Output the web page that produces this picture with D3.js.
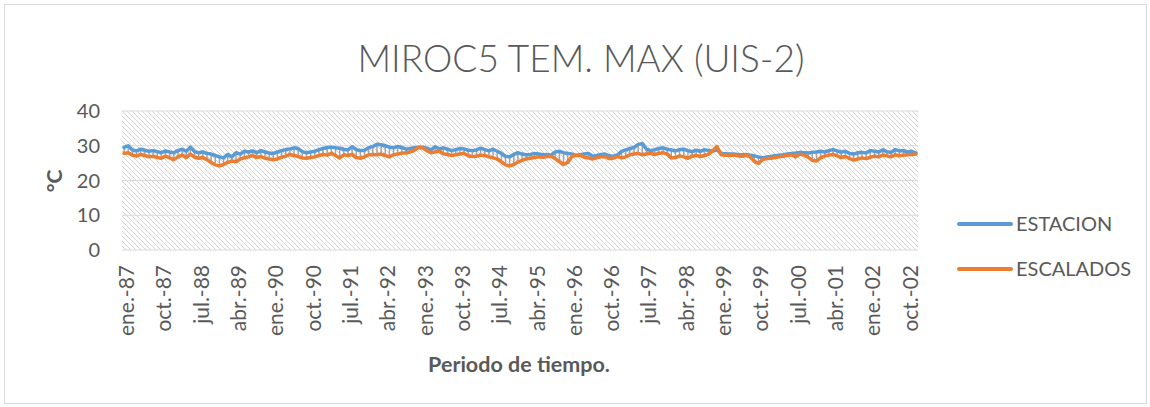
<!DOCTYPE html>
<html>
<head>
<meta charset="utf-8">
<script src="https://cdn.jsdelivr.net/npm/d3@7"></script>
<style>
  body { margin: 0; background: #fff; }
  text { font-family: Lato, "Open Sans", sans-serif; fill: #595959; }
</style>
</head>
<body>
<svg id="svg"></svg>
<script>
const svgWidth = 1150;
const svgHeight = 407;

const monthNames = ["ene.", "feb.", "mar.", "abr.", "may.", "jun.", "jul.", "ago.", "sep.", "oct.", "nov.", "dic."];
const years = d3.range(1987, 2003);

// monthly values, Jan 1987 .. Dec 2002
const estacion = [
  29.5, 30, 28.8, 28.5, 29, 28.7, 28.4, 28.6, 28.3, 28, 28.5, 28.2,
  28, 28.6, 29, 28.4, 29.6, 28.3, 28, 28.2, 27.8, 27.6, 27.2, 26.8,
  26.5, 27.5, 26.8, 28, 27.6, 28.4, 28.2, 28.5, 28, 28.6, 28.2, 27.9,
  27.8, 28.2, 28.6, 28.9, 29.1, 29.4, 29.2, 28.3, 28, 28.2, 28.4, 28.9,
  29.2, 29.5, 29.6, 29.4, 29.3, 29, 28.8, 29.7, 28.9, 28.6, 28.7, 29.4,
  29.8, 30.4, 30.3, 30, 29.6, 29.4, 29.8, 29.5, 29, 29.2, 29.4, 29.6,
  29.6, 29.3, 28.8, 29.7, 29.1, 29.4, 29, 28.6, 28.9, 29.2, 29.1, 28.7,
  28.6, 28.8, 29.3, 28.9, 28.5, 29, 28.4, 27.8, 27, 26.8, 27.5, 28,
  27.6, 27.4, 27.5, 27.8, 27.6, 27.4, 27.5, 27.3, 28.2, 28.4, 28, 27.8,
  27.6, 27.2, 27.4, 27.6, 27.8, 27, 27.2, 27.5, 27.6, 27.1, 27, 27.4,
  28.4, 28.8, 29.2, 29.5, 30.4, 30.6, 29, 28.6, 28.9, 29.2, 29.4, 29,
  28.8, 28.5, 28.9, 29, 28.6, 28.3, 28.7, 28.4, 28.9, 28.6, 28.5, 28.8,
  27.8, 27.7, 27.6, 27.6, 27.5, 27.4, 27.5, 27.3, 27.1, 26.8, 26.5, 26.8,
  26.9, 27.1, 27.3, 27.4, 27.6, 27.8, 27.9, 28.1, 28, 27.9, 28.1, 28.2,
  28.4, 28.2, 28.6, 28.9, 28.5, 28.2, 28.4, 27.8, 27.6, 28, 28.1, 27.9,
  28.6, 28.4, 28.2, 28.8, 28.3, 28.1, 28.9, 28.5, 28.6, 28.2, 28.4, 27.9
];

const escalados = [
  27.8, 28, 27.3, 27, 27.5, 27.2, 26.8, 27, 26.6, 26.4, 27, 26.5,
  26, 26.8, 27.3, 26.6, 27.6, 26.7, 26.4, 26.6, 26, 25.2, 24.5, 24.2,
  24.6, 25.2, 25.6, 25.4, 26.2, 26.5, 26.8, 27.2, 26.6, 26.9, 26.4, 26.2,
  26, 26.2, 26.7, 27, 27.5, 27.2, 26.9, 26.5, 26.4, 26.6, 26.8, 27.2,
  27.5, 27.3, 27.8, 27.2, 26.5, 27.4, 27.2, 27.5, 26.6, 26.4, 26.8, 27.4,
  27.5, 27.4, 27.6, 27.2, 26.8, 27.4, 27.6, 27.9, 27.9, 28.2, 28.7, 29.5,
  29.4, 28.6, 28, 28.2, 28.5, 27.7, 27.5, 27.2, 27.4, 27.6, 27.8, 27.1,
  26.9, 27, 27.3, 27.2, 26.8, 26.5, 26.2, 25.4, 24.5, 24.2, 24.6, 25.3,
  25.8, 26.2, 26.4, 26.6, 26.8, 26.7, 26.9, 27, 26.3, 25.4, 24.6, 25.2,
  26.9, 27.3, 27.2, 26.7, 26.5, 26.2, 26.5, 26.8, 26.9, 26.3, 26.4, 26.9,
  26.5, 26.8, 27.4, 27.6, 27.8, 27.4, 27.6, 27.8, 27.5, 27.8, 28, 27.6,
  26.5, 26.6, 27.1, 26.8, 26.4, 27, 27.2, 26.9, 27.2, 27.6, 28.6, 29.8,
  27.4, 27.3, 27.2, 27.3, 27.1, 27, 27.2, 26.9, 25.5, 24.9, 26, 26.3,
  26.4, 26.6, 26.8, 27, 27.2, 27.4, 26.8, 27.6, 27.3, 26.7, 25.8, 25.6,
  26.5, 27, 27.3, 27.5, 27.1, 26.6, 26.9, 26.3, 25.9, 26.2, 26.5, 26.3,
  26.7, 27, 26.8, 27.3, 27.1, 26.8, 27.4, 27.1, 27.3, 27.4, 27.5, 27.6
];

const yTicks = [0, 10, 20, 30, 40];
const seriesNames = ["ESTACION", "ESCALADOS"];
const seriesColors = ["#5B9BD5", "#ED7D31"];

const months = [];
years.forEach(y => monthNames.forEach(m => months.push(m + "-" + String(y).slice(2))));

let svg = d3.select("#svg").attr("width", svgWidth).attr("height", svgHeight);

// outer chart border
svg.append("rect")
  .attr("x", 4.5).attr("y", 4.5)
  .attr("width", svgWidth - 8).attr("height", svgHeight - 8)
  .attr("fill", "#fff").attr("stroke", "#d9d9d9");

const margin = { top: 111, left: 122, right: 232, bottom: 157 };
const chartWidth = svgWidth - margin.left - margin.right;
const chartHeight = svgHeight - margin.top - margin.bottom;

const chart = svg.append("g")
  .attr("transform", "translate(" + margin.left + "," + margin.top + ")");

const xScale = d3.scaleBand().domain(months).range([0, chartWidth]);
const yScale = d3.scaleLinear().domain([0, 40]).range([chartHeight, 0]);
const xc = d => xScale(d) + xScale.bandwidth() / 2;

// hatched plot background
const defs = svg.append("defs");
const pat = defs.append("pattern")
  .attr("id", "hatch")
  .attr("patternUnits", "userSpaceOnUse")
  .attr("width", 5).attr("height", 5);
pat.append("path")
  .attr("d", "M-1,-1 L6,6 M-1,4 L1,6 M4,-1 L6,1")
  .attr("stroke", "#d4d4d4").attr("stroke-width", 1);

chart.append("rect")
  .attr("width", chartWidth).attr("height", chartHeight)
  .attr("fill", "url(#hatch)");

// gridlines
chart.selectAll(".grid")
  .data(yTicks)
  .join("line")
  .attr("x1", 0).attr("x2", chartWidth)
  .attr("y1", d => yScale(d)).attr("y2", d => yScale(d))
  .attr("stroke", "#d9d9d9").attr("stroke-width", 1.2);

// y axis labels
chart.selectAll(".ylab")
  .data(yTicks)
  .join("text")
  .attr("x", -22)
  .attr("y", d => yScale(d))
  .attr("dy", "0.36em")
  .attr("text-anchor", "end")
  .style("font-size", "20px")
  .text(d => d);

// x axis labels, every 9 months
chart.selectAll(".xlab")
  .data(months.filter((d, i) => i % 9 === 0))
  .join("text")
  .attr("transform", d => "translate(" + (xc(d) + 10) + "," + (chartHeight + 15) + ") rotate(-90)")
  .attr("text-anchor", "end")
  .style("font-size", "21px")
  .text(d => d);

// high-low lines
chart.selectAll(".hilo")
  .data(months)
  .join("line")
  .attr("x1", d => xc(d)).attr("x2", d => xc(d))
  .attr("y1", (d, i) => yScale(Math.max(estacion[i], escalados[i])))
  .attr("y2", (d, i) => yScale(Math.min(estacion[i], escalados[i])))
  .attr("stroke", "#a5a5a5").attr("stroke-width", 1.5);

const line = d3.line()
  .x((d, i) => xc(months[i]))
  .y(d => yScale(d));

[estacion, escalados].forEach((s, k) => {
  chart.append("path")
    .datum(s)
    .attr("fill", "none")
    .attr("stroke", seriesColors[k])
    .attr("stroke-width", 3.5)
    .attr("stroke-linejoin", "round")
    .attr("stroke-linecap", "round")
    .attr("d", line);
});

// title
svg.append("text")
  .attr("x", 581).attr("y", 72)
  .attr("text-anchor", "middle")
  .style("font-size", "37px")
  .style("font-weight", 300)
  .text("MIROC5 TEM. MAX (UIS-2)");

// axis titles
svg.append("text")
  .attr("transform", "translate(62,181) rotate(-90)")
  .attr("text-anchor", "middle")
  .style("font-size", "21px")
  .style("font-weight", "bold")
  .text("°C");

svg.append("text")
  .attr("x", 519).attr("y", 372)
  .attr("text-anchor", "middle")
  .style("font-size", "21.5px")
  .style("font-weight", "bold")
  .text("Periodo de tiempo.");

// legend
const legend = svg.selectAll(".legend")
  .data(seriesNames)
  .join("g")
  .attr("transform", (d, i) => "translate(959," + (224 + i * 45) + ")");
legend.append("line")
  .attr("x1", 0).attr("x2", 52)
  .attr("stroke", (d, i) => seriesColors[i])
  .attr("stroke-width", 4)
  .attr("stroke-linecap", "round");
legend.append("text")
  .attr("x", 57).attr("dy", "0.36em")
  .style("font-size", "20px")
  .text(d => d);
</script>
</body>
</html>
